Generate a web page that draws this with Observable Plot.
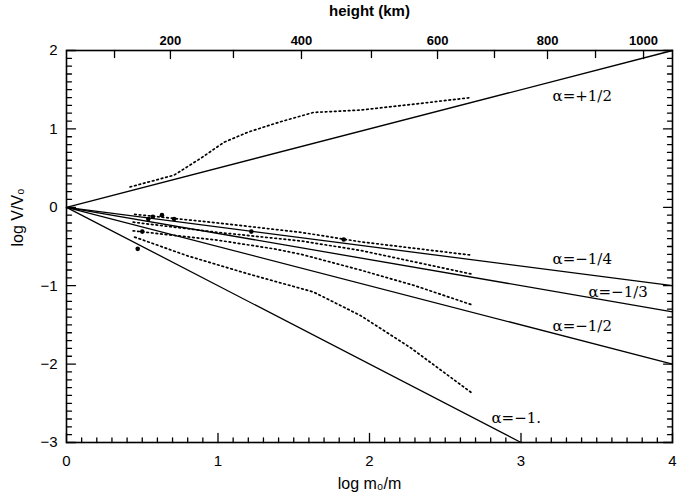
<!DOCTYPE html>
<html><head><meta charset="utf-8">
<script src="https://cdn.jsdelivr.net/npm/d3@7"></script>
<script src="https://cdn.jsdelivr.net/npm/@observablehq/plot@0.6"></script>
<style>
body{margin:0;background:#fff}
#chart{width:677px;height:496px}
</style>
</head><body><div id="chart"></div>
<script>
// Solid power-law lines (log m0/m, log V/V0) endpoints
const alphaLabels = ["α=+1/2", "α=−1/4", "α=−1/3", "α=−1/2", "α=−1."];
const alphaX0 = [0, 0, 0, 0, 0];
const alphaY0 = [0, 0, 0, 0, 0];
const alphaX1 = [4, 4, 4, 4, 3];
const alphaY1 = [2, -1, -1.333, -2, -3];
// label anchors (data units)
const labelX = [3.208, 3.208, 3.445, 3.208, 2.805];
const labelY = [1.42, -0.667, -1.077, -1.513, -2.69];

// Dotted curves
const dotAx = [0.45, 1.0, 1.55, 1.94, 2.67];
const dotAy = [-0.09, -0.2, -0.32, -0.44, -0.61];
const dotBx = [0.44, 1.0, 1.55, 1.94, 2.67];
const dotBy = [-0.19, -0.32, -0.43, -0.55, -0.85];
const dotCx = [0.44, 1.0, 1.37, 1.55, 1.94, 2.3, 2.67];
const dotCy = [-0.3, -0.42, -0.53, -0.6, -0.8, -1.0, -1.24];
const dotDx = [0.45, 0.8, 1.2, 1.63, 1.94, 2.27, 2.67];
const dotDy = [-0.38, -0.62, -0.85, -1.08, -1.38, -1.79, -2.36];
const dotEx = [0.42, 0.71, 0.89, 1.04, 1.2, 1.41, 1.63, 1.94, 2.27, 2.67];
const dotEy = [0.26, 0.41, 0.63, 0.83, 0.96, 1.09, 1.21, 1.24, 1.31, 1.40];

// Observed points
const ptsX = [0.47, 0.50, 0.54, 0.57, 0.63, 0.71, 1.22, 1.83];
const ptsY = [-0.53, -0.31, -0.15, -0.12, -0.10, -0.15, -0.31, -0.41];

// Bottom / left tick labels
const xTickVals = [0, 1, 2, 3, 4];
const yTickVals = [2, 1, 0, -1, -2, -3];
// Top axis: height (km) and its position on log m0/m
const heightKm = [100, 200, 300, 400, 500, 600, 700, 800, 900, 1000];
const heightAtX = [0.317, 0.686, 1.102, 1.551, 2.013, 2.449, 2.825, 3.175, 3.492, 3.809];

const alphaLines = alphaLabels.map((l, i) => [
  {k: i, x: alphaX0[i], y: alphaY0[i]}, {k: i, x: alphaX1[i], y: alphaY1[i]}
]).flat();
const toPts = (xs, ys, k) => xs.map((x, i) => ({k, x, y: ys[i]}));
const dotted = [
  ...toPts(dotAx, dotAy, "A"), ...toPts(dotBx, dotBy, "B"), ...toPts(dotCx, dotCy, "C"),
  ...toPts(dotDx, dotDy, "D"), ...toPts(dotEx, dotEy, "E")
];
const pts = ptsX.map((x, i) => ({x, y: ptsY[i]}));
const labels = alphaLabels.map((t, i) => ({t, x: labelX[i], y: labelY[i]}));
const heights = heightKm.map((h, i) => ({h, x: heightAtX[i]}));

const xMinor = d3.range(0, 41).filter(i => i % 10 !== 0).map(i => i / 10);
const yMinor = d3.range(-30, 21).filter(i => i % 10 !== 0).map(i => i / 10);
const sans = "Liberation Sans, Arial, Helvetica, sans-serif";

const W = 677, H = 496, ML = 66, MR = 5, MT = 50, MB = 54;
const FW = W - ML - MR, FH = H - MT - MB;
const XD = [0, 4], YD = [-3, 2];
// tick length: pixels -> data units
const lenX = px => px * (XD[1] - XD[0]) / FW;
const lenY = px => px * (YD[1] - YD[0]) / FH;
// build inward tick segments as two-point line pieces
let tickId = 0;
const segs = [];
const addX = (vals, side, px) => vals.forEach(v => {
  const k = tickId++;
  const y0 = side === "bottom" ? YD[0] : YD[1];
  const y1 = side === "bottom" ? YD[0] + lenY(px) : YD[1] - lenY(px);
  segs.push({k, x: v, y: y0}, {k, x: v, y: y1});
});
const addY = (vals, side, px) => vals.forEach(v => {
  const k = tickId++;
  const x0 = side === "left" ? XD[0] : XD[1];
  const x1 = side === "left" ? XD[0] + lenX(px) : XD[1] - lenX(px);
  segs.push({k, x: x0, y: v}, {k, x: x1, y: v});
});
addX(xTickVals, "bottom", 9);
addX(xMinor, "bottom", 4.5);
addY(yTickVals, "left", 9);
addY(yMinor, "left", 5);
addY(yTickVals, "right", 9);
addY(yMinor, "right", 5);
addX(heights.filter(d => d.h % 200 === 0).map(d => d.x), "top", 8);
addX(heights.filter(d => d.h % 200 !== 0).map(d => d.x), "top", 7);

const chart = Plot.plot({
  width: W, height: H,
  marginLeft: ML, marginRight: MR, marginTop: MT, marginBottom: MB,
  style: {fontFamily: sans, background: "#fff", color: "#000"},
  x: {domain: XD, label: null, axis: null},
  y: {domain: YD, label: null, axis: null},
  marks: [
    Plot.frame({stroke: "#000", fill: "none", strokeWidth: 1.6}),
    Plot.line(segs, {x: "x", y: "y", z: "k", stroke: "#000", strokeWidth: 1.3}),
    // tick labels
    Plot.text(xTickVals, {x: d => d, frameAnchor: "bottom", dy: 23, text: d => String(d), fontSize: 15}),
    Plot.text(yTickVals, {y: d => d, frameAnchor: "left", dx: -9, textAnchor: "end",
      text: d => (d < 0 ? "−" + Math.abs(d) : String(d)), fontSize: 15}),
    Plot.text(heights.filter(d => d.h % 200 === 0), {x: "x", frameAnchor: "top", dy: -15,
      text: d => String(d.h), fontSize: 13, fontWeight: "bold"}),
    // axis titles
    Plot.text(["height (km)"], {frameAnchor: "top", dy: -45, text: d => d, fontSize: 15, fontWeight: "bold"}),
    Plot.text(["log m₀/m"], {frameAnchor: "bottom", dy: 46, text: d => d, fontSize: 16}),
    Plot.text(["log V/V₀"], {frameAnchor: "left", dx: -49, rotate: -90, text: d => d, fontSize: 16}),
    // data
    Plot.line(dotted, {x: "x", y: "y", z: "k", stroke: "#000", strokeWidth: 1.7, strokeDasharray: "1.6,3"}),
    Plot.line(alphaLines, {x: "x", y: "y", z: "k", stroke: "#000", strokeWidth: 1.3}),
    Plot.dot(pts, {x: "x", y: "y", r: 2.3, fill: "#000"}),
    Plot.text(labels, {x: "x", y: "y", text: "t", textAnchor: "start", fontSize: 15,
      fontFamily: "DejaVu Serif, serif"})
  ]
});
document.getElementById("chart").appendChild(chart);
</script>
</body></html>
